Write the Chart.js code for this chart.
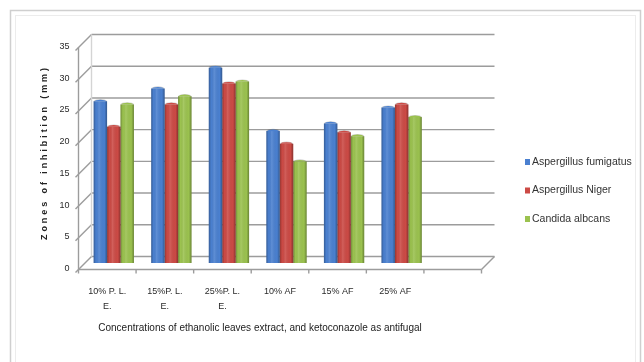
<!DOCTYPE html>
<html>
<head>
<meta charset="utf-8">
<script src="https://cdn.jsdelivr.net/npm/chart.js@4.4.0/dist/chart.umd.min.js"></script>
<style>
  html, body { margin: 0; padding: 0; background: #ffffff; }
  #wrap { width: 644px; height: 362px; }
</style>
</head>
<body>
<div id="wrap"><canvas id="c" width="644" height="362"></canvas></div>
<script>
// Zones of inhibition (mm) per concentration
const categories = [['10% P. L.', 'E.'], ['15%P. L.', 'E.'], ['25%P. L.', 'E.'], '10% AF', '15% AF', '25% AF', ''];
const fumigatus = [25.5, 27.5, 30.8, 20.8, 22.0, 24.5, null];
const niger     = [21.5, 25.0, 28.3, 18.8, 20.6, 25.0, null];
const albicans  = [25.0, 26.3, 28.6, 16.0, 20.0, 23.0, null];
const yTicks = [0, 5, 10, 15, 20, 25, 30, 35];
const seriesNames = ['Aspergillus fumigatus', 'Aspergillus Niger', 'Candida albcans'];
const seriesColors = ['#4a80d0', '#cc4a45', '#9bc24f'];
const xTitle = 'Concentrations of ethanolic leaves extract, and ketoconazole as antifugal';
const yTitle = 'Zones of inhibition (mm)';

const NARROW = '"Liberation Sans Narrow", "Liberation Sans", Arial, sans-serif';
const DEPTH = 6.5;          // half depth of the 3-D box
const GRID = '#9c9c9c';

function line(ctx, x1, y1, x2, y2) {
  ctx.beginPath(); ctx.moveTo(x1, y1); ctx.lineTo(x2, y2); ctx.stroke();
}

const box3d = {
  id: 'box3d',
  beforeDraw(chart) {
    const ctx = chart.ctx;
    ctx.save();
    ctx.fillStyle = '#ffffff';
    ctx.fillRect(0, 0, chart.width, chart.height);
    // outer frame
    ctx.strokeStyle = '#cfcfcf'; ctx.lineWidth = 1.5;
    ctx.strokeRect(10.5, 10.5, 630, 360);
    ctx.strokeStyle = '#ececec'; ctx.lineWidth = 1;
    ctx.strokeRect(15.5, 15.5, 620, 360);
    ctx.restore();
  },
  beforeDatasetsDraw(chart) {
    const ctx = chart.ctx, ys = chart.scales.y, ca = chart.chartArea;
    const L = ca.left, R = ca.right, D = DEPTH;
    const y0 = ys.getPixelForValue(0), yTop = ys.getPixelForValue(35);
    const cw = (R - L) / categories.length;
    ctx.save();
    ctx.strokeStyle = GRID; ctx.lineWidth = 1.4;
    // back wall gridlines and side wall connectors
    yTicks.forEach(v => {
      const ym = ys.getPixelForValue(v);
      line(ctx, L + D, ym - D, R + D, ym - D);
      line(ctx, L - D - 3, ym + D + 3, L + D, ym - D);
    });
    // wall edges
    line(ctx, L - D, y0 + D, L - D, yTop + D);
    ctx.strokeStyle = '#d4d4d4';
    line(ctx, L + D, y0 - D, L + D, yTop - D);
    // floor
    ctx.strokeStyle = GRID;
    line(ctx, L - D, y0 + D, R - D, y0 + D);
    line(ctx, R - D, y0 + D, R + D, y0 - D);
    for (let i = 0; i <= categories.length; i++) {
      const x = L - D + i * cw;
      line(ctx, x, y0 + D, x, y0 + D + 4);
    }
    // value labels on the front edge
    ctx.fillStyle = '#2a2a2a';
    ctx.font = '9px ' + NARROW;
    ctx.textAlign = 'right'; ctx.textBaseline = 'middle';
    yTicks.forEach(v => {
      ctx.fillText(String(v), L - D - 9, ys.getPixelForValue(v) + D - 1);
    });
    // category labels
    ctx.textAlign = 'center'; ctx.textBaseline = 'middle';
    categories.forEach((c, i) => {
      const x = L - D + (i + 0.5) * cw;
      const parts = Array.isArray(c) ? c : [c];
      parts.forEach((t, k) => ctx.fillText(t, x, 292 + k * 15));
    });
    ctx.restore();
  },
  afterDatasetsDraw(chart) {
    const ctx = chart.ctx;
    ctx.save();
    // cylinder-like shading on every bar
    chart.data.datasets.forEach((ds, di) => {
      chart.getDatasetMeta(di).data.forEach((bar, j) => {
        if (ds.data[j] == null) return;
        const left = bar.x - bar.width / 2, w = bar.width;
        const g = ctx.createLinearGradient(left, 0, left + w, 0);
        g.addColorStop(0, 'rgba(0,0,0,0.28)');
        g.addColorStop(0.18, 'rgba(0,0,0,0.0)');
        g.addColorStop(0.4, 'rgba(255,255,255,0.12)');
        g.addColorStop(0.8, 'rgba(0,0,0,0.0)');
        g.addColorStop(1, 'rgba(0,0,0,0.32)');
        ctx.fillStyle = g;
        ctx.fillRect(left, bar.y, w, bar.base - bar.y);
        // rounded top cap
        ctx.fillStyle = 'rgba(0,0,0,0.18)';
        ctx.beginPath();
        ctx.ellipse(bar.x, bar.y, w / 2, 2.2, 0, Math.PI, 0);
        ctx.fill();
        ctx.fillStyle = ds.backgroundColor;
        ctx.beginPath();
        ctx.ellipse(bar.x, bar.y, w / 2 - 1, 1.6, 0, Math.PI, 0);
        ctx.fill();
      });
    });
    // legend
    ctx.font = '10.5px ' + NARROW;
    ctx.textAlign = 'left'; ctx.textBaseline = 'middle';
    seriesNames.forEach((n, i) => {
      const y = 162 + i * 28.5;
      ctx.fillStyle = seriesColors[i];
      ctx.fillRect(525, y - 3, 5, 6);
      ctx.fillStyle = '#333333';
      ctx.fillText(n, 532, y);
    });
    // axis titles
    ctx.fillStyle = '#222222';
    ctx.font = '10px ' + NARROW;
    ctx.textAlign = 'center';
    ctx.fillText(xTitle, 260, 328);
    ctx.translate(45, 154);
    ctx.rotate(-Math.PI / 2);
    ctx.font = 'bold 9px "Liberation Sans", Arial, sans-serif';
    const w = ctx.measureText(yTitle).width;
    const sp = Math.max(0, (172 - w) / (yTitle.length - 1));
    ctx.letterSpacing = sp.toFixed(2) + 'px';
    ctx.fillText(yTitle, sp / 2, 0);
    ctx.restore();
  }
};

new Chart(document.getElementById('c'), {
  type: 'bar',
  data: {
    labels: categories,
    datasets: [
      { label: seriesNames[0], data: fumigatus, backgroundColor: seriesColors[0] },
      { label: seriesNames[1], data: niger, backgroundColor: seriesColors[1] },
      { label: seriesNames[2], data: albicans, backgroundColor: seriesColors[2] }
    ]
  },
  options: {
    responsive: false,
    animation: false,
    devicePixelRatio: 1,
    layout: { padding: { left: 85, right: 156, top: 41, bottom: 99 } },
    datasets: { bar: { categoryPercentage: 0.7, barPercentage: 1.0, borderWidth: 0 } },
    scales: {
      x: { display: false },
      y: { display: false, min: 0, max: 35 }
    },
    plugins: { legend: { display: false }, tooltip: { enabled: false } }
  },
  plugins: [box3d]
});
</script>
</body>
</html>
